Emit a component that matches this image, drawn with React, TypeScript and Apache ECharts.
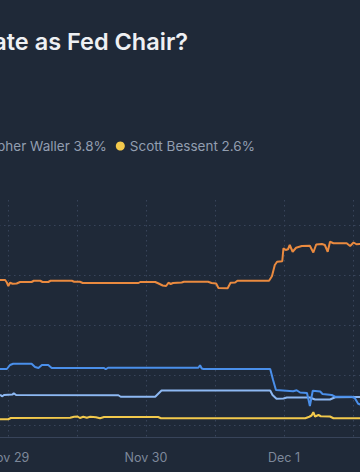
import React, { useEffect, useRef } from "react";
import * as echarts from "echarts";

// ---- data ----
const TITLE = "Who will Trump nominate as Fed Chair?";
const seriesNames = ["Kevin Hassett", "Kevin Warsh", "Christopher Waller", "Scott Bessent"];
const legendNames = ["Christopher Waller", "Scott Bessent"];
const legendPct = [3.8, 2.6];
// x values are hours after Nov 28, 00:00
const dayTickHours = [24, 48, 72];
const dayTickLabels = ["Nov 29", "Nov 30", "Dec 1"];

const hassett: [number, number][] = [
  [22, 58], [23.5, 58], [23.8, 57], [24.06, 55.6], [24.35, 56.9], [24.8, 56.5], [25.5, 56.6],
  [26.1, 57.2], [28.1, 57.2], [28.5, 57.7], [29.6, 57.7], [30.0, 57.2], [31.0, 57.2], [31.4, 57.7],
  [35.1, 57.7], [35.5, 57.3], [36.5, 57.3], [37.0, 56.8], [46.7, 56.8], [47.0, 57.2], [49.6, 57.2],
  [50.1, 56.7], [50.9, 55.8], [51.5, 55.6], [51.9, 56.9], [52.3, 56.4], [52.7, 56.8], [54.2, 57.0],
  [54.6, 57.3], [58.8, 57.3], [59.4, 56.8], [60.2, 56.6], [60.6, 54.8], [62.2, 54.7], [62.7, 56.9],
  [63.5, 57.0], [63.9, 57.7], [69.4, 57.7], [69.9, 59.5], [70.4, 64.0], [70.8, 65.3], [71.7, 65.5],
  [71.9, 70.7], [72.3, 70.0], [72.7, 70.3], [73.0, 72.0], [73.5, 69.3], [74.1, 70.9], [75.1, 71.6],
  [76.5, 71.7], [77.1, 69.0], [77.6, 72.2], [78.6, 72.4], [79.1, 72.0], [79.6, 69.3], [80.0, 73.3],
  [80.6, 72.7], [82.9, 72.7], [83.5, 71.6], [84.1, 73.0], [84.6, 72.3], [85.2, 72.4], [87, 72.4],
];
const warsh: [number, number][] = [
  [22, 22.4], [23.8, 22.4], [24.35, 24.0], [24.9, 24.5], [28.1, 24.5], [28.7, 23.2], [29.3, 22.8],
  [29.9, 24.0], [31.0, 24.0], [31.6, 22.8], [40.7, 22.8], [41.0, 22.3], [41.4, 22.9], [57.1, 22.9],
  [57.4, 23.9], [57.7, 22.6], [58.0, 22.4], [69.6, 22.4], [70.1, 18.0], [70.6, 14.0], [73.6, 13.5],
  [74.2, 13.9], [74.8, 13.0], [76.0, 12.8], [76.5, 7.6], [77.0, 13.7], [78.3, 13.4], [78.7, 12.4],
  [80.3, 12.0], [80.9, 11.3], [83.8, 11.3], [84.3, 10.8], [84.9, 8.5], [85.5, 8.0], [87, 8.0],
];
const waller: [number, number][] = [
  [22, 11.9], [22.8, 11.9], [22.96, 11.4], [23.3, 12.0], [24.8, 12.2], [25.0, 12.7], [25.4, 12.0],
  [43.2, 11.9], [43.6, 11.3], [49.6, 11.3], [50.7, 13.8], [69.6, 13.8], [70.0, 12.0], [70.7, 10.5],
  [71.9, 10.6], [72.5, 11.0], [76.5, 11.0], [77.4, 10.2], [80.0, 10.2], [80.9, 11.1], [85.2, 11.2],
  [87, 11.2],
];
const bessent: [number, number][] = [
  [22, 2.3], [24.05, 2.3], [24.5, 2.8], [34.8, 2.9], [35.5, 3.3], [36.1, 3.4], [36.5, 2.8],
  [37.1, 3.3], [37.7, 2.9], [38.3, 3.3], [39.3, 3.1], [40.0, 2.7], [40.7, 3.2], [50.1, 3.2],
  [50.6, 2.7], [75.7, 2.7], [76.4, 3.3], [76.8, 3.8], [77.1, 5.1], [77.4, 3.4], [78.0, 4.0],
  [78.4, 3.5], [80.0, 3.4], [80.6, 2.7], [85.2, 2.7], [87, 2.7],
];
const seriesData = [hassett, warsh, waller, bessent];

// ---- styles ----
const COLORS = ["#EA8A3F", "#4A8FEA", "#8DB8F2", "#F2C94C"];
const BG = "#1F2938";
const GRID = "#38445A";
const FONT = "Inter, 'Noto Sans', sans-serif";
const OFFSET = 200; // part of the chart that lies left of the visible window
const FULL_W = 640;
const H = 472;

export default function App() {
  const ref = useRef<HTMLDivElement>(null);
  useEffect(() => {
    if (!ref.current) return;
    const chart = echarts.init(ref.current, undefined, { renderer: "svg" });
    chart.setOption({
      animation: false,
      backgroundColor: BG,
      title: {
        text: TITLE,
        right: FULL_W - (OFFSET + 188),
        top: 29,
        padding: 0,
        textStyle: { color: "#EEF0F3", fontSize: 23.5, fontWeight: 600, fontFamily: FONT },
      },
      legend: {
        data: legendNames,
        right: FULL_W - (OFFSET + 255),
        top: 139,
        padding: 0,
        icon: "circle",
        itemWidth: 9,
        itemHeight: 9,
        itemGap: 9,
        selectedMode: false,
        formatter: (name: string) => {
          const i = legendNames.indexOf(name);
          return `${name} ${legendPct[i]}%`;
        },
        textStyle: { color: "#929EB0", fontSize: 13.5, fontFamily: FONT },
      },
      grid: {
        left: OFFSET - 61,
        right: 18,
        top: 200,
        bottom: H - 437,
      },
      xAxis: {
        type: "value",
        min: 12,
        max: 96,
        interval: 12,
        axisLine: { show: true, onZero: false, lineStyle: { color: GRID, width: 1 } },
        axisTick: { show: false },
        splitLine: { show: true, lineStyle: { color: GRID, width: 1, type: [1.5, 3.5] } },
        axisLabel: {
          margin: 14,
          color: "#7D889A",
          fontSize: 12.5,
          fontFamily: FONT,
          formatter: (v: number) => {
            const i = dayTickHours.indexOf(v);
            return i >= 0 ? dayTickLabels[i] : "";
          },
        },
      },
      yAxis: {
        type: "value",
        position: "right",
        min: -4.8,
        max: 90,
        splitNumber: 5,
        axisLine: { show: false },
        axisTick: { show: false },
        axisLabel: { show: false },
        splitLine: {
          show: true,
          showMinLine: false,
          showMaxLine: false,
          lineStyle: { color: GRID, width: 1, type: [1.5, 3.5] },
        },
      },
      series: seriesNames.map((name, i) => ({
        name,
        type: "line",
        data: seriesData[i],
        showSymbol: false,
        symbol: "none",
        color: COLORS[i],
        lineStyle: { width: 2, color: COLORS[i] },
        z: 10 - i,
      })),
    });
    return () => chart.dispose();
  }, []);

  return (
    <div
      style={{
        position: "fixed",
        left: 0,
        top: 0,
        width: 360,
        height: H,
        overflow: "hidden",
        background: BG,
      }}
    >
      <div
        ref={ref}
        style={{ position: "absolute", left: -OFFSET, top: 0, width: FULL_W, height: H }}
      />
    </div>
  );
}
